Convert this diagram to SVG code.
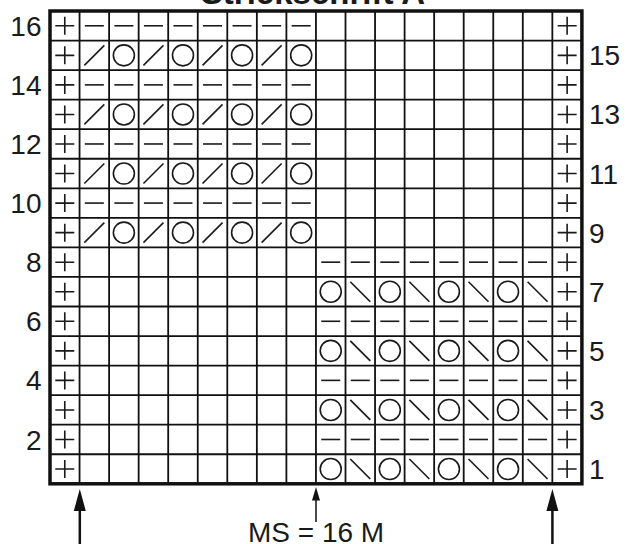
<svg xmlns="http://www.w3.org/2000/svg" xmlns:xlink="http://www.w3.org/1999/xlink" width="628" height="544" viewBox="0 0 628 544">
<style>
.sym{fill:none;stroke:#1a1a1a;stroke-width:1.6}
.grid{fill:none;stroke:#111;stroke-width:1.8}
.border{fill:none;stroke:#111;stroke-width:3.5}
.num{font-family:"Liberation Sans",Arial,Helvetica,sans-serif;font-size:28px;fill:#1a1a1a}
.title{font-family:"Liberation Sans",Arial,Helvetica,sans-serif;font-size:33px;font-weight:bold;fill:#1a1a1a}
.arr{stroke:#111;fill:none}
</style>
<defs>
<path id="p" class="sym" d="M-9.5,0H9.5M0,-9V9"/>
<path id="d" class="sym" d="M-9.5,0H9.5"/>
<path id="s" class="sym" d="M-10,10L10,-10"/>
<path id="b" class="sym" d="M-10,-10L10,10"/>
<circle id="o" class="sym" r="10.5"/>
<g id="rA">
<use xlink:href="#p" x="64.78"/><use xlink:href="#d" x="94.33"/><use xlink:href="#d" x="123.88"/><use xlink:href="#d" x="153.43"/><use xlink:href="#d" x="182.98"/><use xlink:href="#d" x="212.53"/><use xlink:href="#d" x="242.08"/><use xlink:href="#d" x="271.63"/><use xlink:href="#d" x="301.18"/><use xlink:href="#p" x="567.13"/>
</g>
<g id="rB">
<use xlink:href="#p" x="64.78"/><use xlink:href="#s" x="94.33"/><use xlink:href="#o" x="123.88"/><use xlink:href="#s" x="153.43"/><use xlink:href="#o" x="182.98"/><use xlink:href="#s" x="212.53"/><use xlink:href="#o" x="242.08"/><use xlink:href="#s" x="271.63"/><use xlink:href="#o" x="301.18"/><use xlink:href="#p" x="567.13"/>
</g>
<g id="rC">
<use xlink:href="#p" x="64.78"/><use xlink:href="#d" x="330.73"/><use xlink:href="#d" x="360.28"/><use xlink:href="#d" x="389.83"/><use xlink:href="#d" x="419.38"/><use xlink:href="#d" x="448.93"/><use xlink:href="#d" x="478.48"/><use xlink:href="#d" x="508.03"/><use xlink:href="#d" x="537.58"/><use xlink:href="#p" x="567.13"/>
</g>
<g id="rD">
<use xlink:href="#p" x="64.78"/><use xlink:href="#o" x="330.73"/><use xlink:href="#b" x="360.28"/><use xlink:href="#o" x="389.83"/><use xlink:href="#b" x="419.38"/><use xlink:href="#o" x="448.93"/><use xlink:href="#b" x="478.48"/><use xlink:href="#o" x="508.03"/><use xlink:href="#b" x="537.58"/><use xlink:href="#p" x="567.13"/>
</g>
</defs>
<rect width="628" height="544" fill="#fff"/>
<text class="title" x="313" y="3.5" text-anchor="middle">Strickschrift A</text>
<g id="grid">
<path class="grid" d="M79.55,11V483.8M109.1,11V483.8M138.65,11V483.8M168.2,11V483.8M197.75,11V483.8M227.3,11V483.8M256.85,11V483.8M286.4,11V483.8M315.95,11V483.8M345.5,11V483.8M375.05,11V483.8M404.6,11V483.8M434.15,11V483.8M463.7,11V483.8M493.25,11V483.8M522.8,11V483.8M552.35,11V483.8"/>
<path class="grid" d="M50,40.55H581.9M50,70.1H581.9M50,99.65H581.9M50,129.2H581.9M50,158.75H581.9M50,188.3H581.9M50,217.85H581.9M50,247.4H581.9M50,276.95H581.9M50,306.5H581.9M50,336.05H581.9M50,365.6H581.9M50,395.15H581.9M50,424.7H581.9M50,454.25H581.9"/>
<rect class="border" x="50" y="11" width="531.9" height="472.8"/>
</g>
<g id="cells">
<use xlink:href="#rA" y="25.78"/>
<use xlink:href="#rB" y="55.33"/>
<use xlink:href="#rA" y="84.88"/>
<use xlink:href="#rB" y="114.43"/>
<use xlink:href="#rA" y="143.98"/>
<use xlink:href="#rB" y="173.53"/>
<use xlink:href="#rA" y="203.08"/>
<use xlink:href="#rB" y="232.63"/>
<use xlink:href="#rC" y="262.18"/>
<use xlink:href="#rD" y="291.73"/>
<use xlink:href="#rC" y="321.28"/>
<use xlink:href="#rD" y="350.83"/>
<use xlink:href="#rC" y="380.38"/>
<use xlink:href="#rD" y="409.93"/>
<use xlink:href="#rC" y="439.48"/>
<use xlink:href="#rD" y="469.03"/>
</g>
<g id="row-numbers">
<g text-anchor="end">
<text class="num" x="41.5" y="35.8">16</text>
<text class="num" x="41.5" y="94.9">14</text>
<text class="num" x="41.5" y="154">12</text>
<text class="num" x="41.5" y="213.1">10</text>
<text class="num" x="41.5" y="272.2">8</text>
<text class="num" x="41.5" y="331.3">6</text>
<text class="num" x="41.5" y="390.4">4</text>
<text class="num" x="41.5" y="449.5">2</text>
</g>
<text class="num" x="589" y="65.3">15</text>
<text class="num" x="589" y="124.4">13</text>
<text class="num" x="589" y="183.5">11</text>
<text class="num" x="589" y="242.6">9</text>
<text class="num" x="589" y="301.7">7</text>
<text class="num" x="589" y="360.8">5</text>
<text class="num" x="589" y="419.9">3</text>
<text class="num" x="589" y="479">1</text>
</g>
<g id="connectors">
<path class="arr" stroke-width="2.5" d="M79.8,509V544"/>
<polygon points="79.8,489 73.8,511 85.8,511" fill="#111"/>
<path class="arr" stroke-width="1.5" d="M316,498V522"/>
<polygon points="316,487 312,500.5 320,500.5" fill="#111"/>
<path class="arr" stroke-width="2.5" d="M552.4,509V544"/>
<polygon points="552.4,489 546.4,511 558.4,511" fill="#111"/>
</g>
<text class="num" x="248" y="541.5">MS = 16 M</text>
</svg>
